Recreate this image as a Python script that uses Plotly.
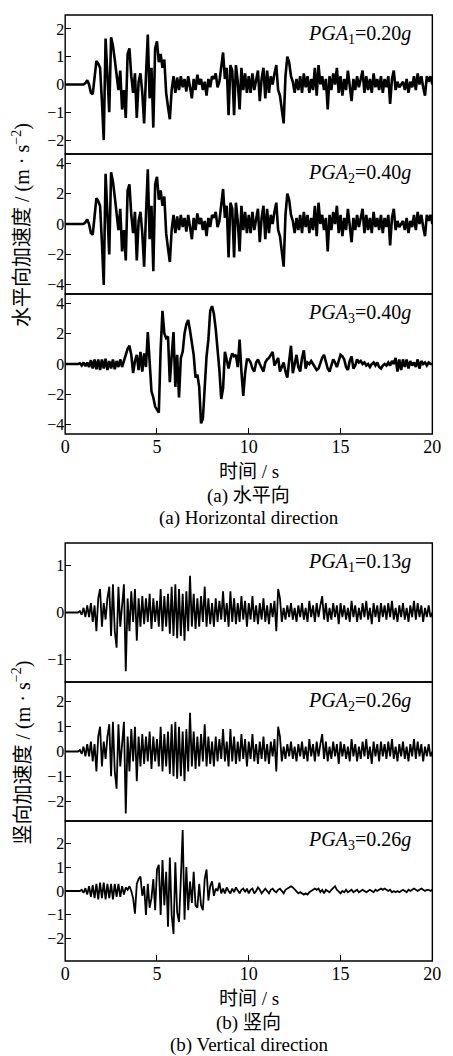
import plotly.graph_objects as go

# ---------------- data ----------------
time_s = [round(i * 0.1, 1) for i in range(201)]

# Horizontal, PGA1 = 0.20g  (m/s^2), one row per second, 0.1 s step
horiz_pga1 = [
    0, 0, 0, 0, 0, 0, 0, 0, 0, 0,
    0, 0.05, 0.15, 0, -0.3, -0.35, 0.3, 0.85, 0.75, 0.6,
    -0.6, -2.0, 1.65, 0.2, -1.0, 1.7, 1.4, 0.9, 0.4, -0.2,
    0.5, -0.9, -0.2, -1.2, 1.1, 1.3, 0.3, -0.3, 0.4, -1.2,
    0.1, 0.4, -0.3, -1.4, 0.3, 1.8, -0.5, 0.6, -1.55, 1.3,
    1.55, 0.8, 1.1, 0.6, 0.9, -0.3, -0.8, -1.25, -0.2, 0.3,
    -0.3, 0.25, -0.2, 0.3, -0.1, 0.2, -0.25, 0.3, -0.1, -0.5,
    0.2, -0.2, 0.35, 0, 0.2, -0.2, 0.1, -0.4, 0.2, -0.1,
    0.3, 0.2, 0.4, -0.1, 0.1, 0.6, 1.15, 0.2, 0.6, -1.1,
    0.7, 0.5, -1.1, 0.7, 0.1, -0.9, 0.6, -0.2, 0.4, -0.3,
    0.3, -0.3, 0.4, -0.2, 0.1, 0.5, -0.6, 0.2, 0.6, -0.5,
    0.5, -0.3, 0.3, 0, 0.4, 0.7, -0.2, -0.4, -0.9, -1.4,
    0.3, 1.0, 0.8, 0.3, 0.1, -0.3, 0.2, -0.2, 0.3, -0.3,
    0.4, -0.1, 0.3, -0.3, 0.2, -0.2, 0.6, -0.4, 0.7, 0,
    0.3, -0.2, 0.2, -0.9, 0.3, -0.2, 0.4, 0, 0.6, -0.3,
    0.3, -0.4, 0.2, -0.2, 0.5, -0.1, -0.6, 0.2, -0.2, 0.3,
    -0.1, 0.2, 0.5, -0.3, 0.3, -0.2, 0.2, -0.3, 0.4, -0.1,
    0.2, -0.2, 0.3, -0.3, 0.2, -0.1, 0.3, -0.7, 0.2, 0.5,
    -0.2, 0.1, -0.1, 0, 0.1, -0.2, 0.2, -0.3, 0.1, -0.1,
    0.3, -0.2, 0.4, 0, 0.3, -0.1, -0.4, 0.3, 0.1, 0.3,
    0.0,
]

# Horizontal, PGA2 = 0.40g
horiz_pga2 = [
    0, 0, 0, 0, 0, 0, 0, 0, 0, 0,
    0, 0.1, 0.3, 0, -0.6, -0.7, 0.6, 1.7, 1.5, 1.2,
    -1.2, -4.0, 3.3, 0.4, -2.0, 3.4, 2.8, 1.8, 0.8, -0.4,
    1.0, -1.8, -0.4, -2.4, 2.2, 2.6, 0.6, -0.6, 0.8, -2.4,
    0.2, 0.8, -0.6, -2.8, 0.6, 3.6, -1.0, 1.2, -3.1, 2.6,
    3.1, 1.6, 2.2, 1.2, 1.8, -0.6, -1.6, -2.5, -0.4, 0.6,
    -0.6, 0.5, -0.4, 0.6, -0.2, 0.4, -0.5, 0.6, -0.2, -1.0,
    0.4, -0.4, 0.7, 0, 0.4, -0.4, 0.2, -0.8, 0.4, -0.2,
    0.6, 0.4, 0.8, -0.2, 0.2, 1.2, 2.3, 0.4, 1.2, -2.2,
    1.4, 1.0, -2.2, 1.4, 0.2, -1.8, 1.2, -0.4, 0.8, -0.6,
    0.6, -0.6, 0.8, -0.4, 0.2, 1.0, -1.2, 0.4, 1.2, -1.0,
    1.0, -0.6, 0.6, 0, 0.8, 1.4, -0.4, -0.8, -1.8, -2.8,
    0.6, 2.0, 1.6, 0.6, 0.2, -0.6, 0.4, -0.4, 0.6, -0.6,
    0.8, -0.2, 0.6, -0.6, 0.4, -0.4, 1.2, -0.8, 1.4, 0,
    0.6, -0.4, 0.4, -1.8, 0.6, -0.4, 0.8, 0, 1.2, -0.6,
    0.6, -0.8, 0.4, -0.4, 1.0, -0.2, -1.2, 0.4, -0.4, 0.6,
    -0.2, 0.4, 1.0, -0.6, 0.6, -0.4, 0.4, -0.6, 0.8, -0.2,
    0.4, -0.4, 0.6, -0.6, 0.4, -0.2, 0.6, -1.4, 0.4, 1.0,
    -0.4, 0.2, -0.2, 0, 0.2, -0.4, 0.4, -0.6, 0.2, -0.2,
    0.6, -0.4, 0.8, 0, 0.6, -0.2, -0.8, 0.6, 0.2, 0.6,
    0.0,
]

# Horizontal, PGA3 = 0.40g
horiz_pga3 = [
    0, 0, 0, 0, 0, 0, 0, 0, 0.05, -0.1,
    0.1, -0.15, 0.1, -0.2, 0.25, -0.3, 0.3, -0.35, 0.3, -0.4,
    0.3, -0.3, 0.35, -0.4, 0.2, -0.3, 0.3, -0.35, 0.2, -0.2,
    0.3, -0.2, 0.2, 0.6, 1.0, 1.2, 0.6, -0.6, 0.2, 0.6,
    -0.4, 0.8, -0.5, 0.7, -0.2, 2.1, 0.2, -1.8, -2.2, -2.8,
    -3.0, -3.2, 1.0, 3.5, 2.0, 1.7, 1.8, -1.2, 0.5, 2.1,
    -1.5, 0.6, -2.2, 0.4, 0.8, 2.0, 2.6, 2.9, 2.2, 1.5,
    0.6, -0.9, -0.7, -1.5, -3.9, -3.6, -1.5, 0.5, 1.6, 3.5,
    3.8, 3.3, 2.3, 1.0, -0.4, -2.3, -1.6, 0.8, 0.3, -0.3,
    0.3, 0.7, 0.5, 0.6, -0.2, 1.6, -0.5, -2.1, -0.6, 0.3,
    0.3, 0.1, -0.3, -0.5, 0.1, 0.3, 0, -0.3, -0.5, 0.1,
    0.3, 0.4, 0.6, 0.8, -0.1, 0.2, 0.4, -0.5, -0.2, 0.1,
    -0.5, -0.9, 0.2, 1.2, -0.6, 0.1, 0.6, -0.2, -0.5, 0.4,
    0.9, -0.3, 0.1, 0, 0.2, 0, -0.2, -0.4, -0.3, 0.1,
    0.4, 0.6, 0.1, -0.3, -0.5, 0, 0.3, 0.1, -0.2, 0.2,
    0.6, 0.5, 0.3, -0.2, -0.4, 0.2, 0.5, -0.3, -0.1, 0.3,
    0.1, 0.2, 0, 0.1, -0.1, 0, -0.2, 0, 0.1, -0.1,
    0.1, -0.2, -0.3, -0.1, 0, -0.1, 0.1, -0.1, 0.2, 0,
    0.4, -0.5, 0.3, -0.4, 0.3, -0.2, 0.3, -0.3, 0.2, -0.1,
    0.1, -0.2, 0.3, -0.3, 0.2, 0, 0.1, -0.1, 0.1, 0,
    0.0,
]

# Vertical, PGA1 = 0.13g
vert_pga1 = [
    0, 0, 0, 0, 0, 0, 0, 0, 0.03, -0.05,
    0.1, -0.1, 0.15, -0.1, 0.2, -0.2, 0.15, -0.4, 0.3, 0.5,
    -0.3, 0.2, -0.15, 0.3, 0.55, -0.5, 0.6, -0.4, -0.75, 0.55,
    -0.3, 0.2, 0.6, -1.25, 0.3, -0.4, 0.45, -0.2, 0.5, -0.6,
    0.3, -0.3, 0.35, -0.25, 0.3, -0.2, 0.4, -0.35, 0.3, -0.2,
    0.25, -0.3, 0.5, -0.4, 0.35, -0.3, 0.4, -0.45, 0.55, -0.5,
    0.6, -0.55, 0.5, -0.5, 0.4, -0.6, 0.45, -0.4, 0.78, -0.3,
    0.4, -0.35, 0.3, -0.3, 0.35, -0.2, 0.55, -0.3, 0.3, -0.25,
    0.2, -0.3, 0.3, -0.2, 0.25, -0.15, 0.45, -0.2, 0.2, -0.3,
    0.45, -0.2, 0.3, -0.25, 0.2, -0.2, 0.35, -0.15, 0.25, -0.3,
    0.2, -0.15, 0.35, -0.2, 0.15, -0.25, 0.2, -0.15, 0.3, -0.2,
    0.15, -0.25, 0.2, -0.1, 0.25, -0.4, 0.5, 0.3, -0.2, 0.1,
    -0.15, 0.15, -0.1, 0.2, -0.15, 0.1, -0.2, 0.15, -0.1, 0.2,
    -0.15, 0.1, -0.2, 0.25, -0.1, 0.15, -0.2, 0.2, -0.1, 0.15,
    0.35, -0.15, 0.2, -0.2, 0.1, -0.15, 0.2, -0.1, 0.15, -0.25,
    0.2, -0.1, 0.15, -0.15, 0.1, -0.2, 0.25, -0.1, 0.15, -0.2,
    0.1, -0.15, 0.2, -0.1, 0.25, -0.15, 0.1, -0.25, 0.2, -0.1,
    0.15, -0.2, 0.2, -0.1, 0.15, -0.15, 0.2, -0.1, 0.25, -0.15,
    0.1, -0.2, 0.15, -0.1, 0.2, -0.15, 0.1, -0.2, 0.15, -0.1,
    0.25, -0.15, 0.2, -0.1, 0.15, -0.2, 0.1, -0.1, 0.15, -0.1,
    0.0,
]

# Vertical, PGA2 = 0.26g
vert_pga2 = [
    0, 0, 0, 0, 0, 0, 0, 0, 0.06, -0.1,
    0.2, -0.2, 0.3, -0.2, 0.4, -0.4, 0.3, -0.8, 0.6, 1.0,
    -0.6, 0.4, -0.3, 0.6, 1.1, -1.0, 1.2, -0.8, -1.5, 1.1,
    -0.6, 0.4, 1.2, -2.5, 0.6, -0.8, 0.9, -0.4, 1.0, -1.2,
    0.6, -0.6, 0.7, -0.5, 0.6, -0.4, 0.8, -0.7, 0.6, -0.4,
    0.5, -0.6, 1.0, -0.8, 0.7, -0.6, 0.8, -0.9, 1.1, -1.0,
    1.2, -1.1, 1.0, -1.0, 0.8, -1.2, 0.9, -0.8, 1.56, -0.6,
    0.8, -0.7, 0.6, -0.6, 0.7, -0.4, 1.1, -0.6, 0.6, -0.5,
    0.4, -0.6, 0.6, -0.4, 0.5, -0.3, 0.9, -0.4, 0.4, -0.6,
    0.9, -0.4, 0.6, -0.5, 0.4, -0.4, 0.7, -0.3, 0.5, -0.6,
    0.4, -0.3, 0.7, -0.4, 0.3, -0.5, 0.4, -0.3, 0.6, -0.4,
    0.3, -0.5, 0.4, -0.2, 0.5, -0.8, 1.0, 0.6, -0.4, 0.2,
    -0.3, 0.3, -0.2, 0.4, -0.3, 0.2, -0.4, 0.3, -0.2, 0.4,
    -0.3, 0.2, -0.4, 0.5, -0.2, 0.3, -0.4, 0.4, -0.2, 0.3,
    0.7, -0.3, 0.4, -0.4, 0.2, -0.3, 0.4, -0.2, 0.3, -0.5,
    0.4, -0.2, 0.3, -0.3, 0.2, -0.4, 0.5, -0.2, 0.3, -0.4,
    0.2, -0.3, 0.4, -0.2, 0.5, -0.3, 0.2, -0.5, 0.4, -0.2,
    0.3, -0.4, 0.4, -0.2, 0.3, -0.3, 0.4, -0.2, 0.5, -0.3,
    0.2, -0.4, 0.3, -0.2, 0.4, -0.3, 0.2, -0.4, 0.3, -0.2,
    0.5, -0.3, 0.4, -0.2, 0.3, -0.4, 0.2, -0.2, 0.3, -0.2,
    0.0,
]

# Vertical, PGA3 = 0.26g
vert_pga3 = [
    0, 0, 0, 0, 0, 0, 0, 0, 0, 0.05,
    -0.08, 0.12, -0.15, 0.2, -0.25, 0.25, -0.3, 0.3, -0.35, 0.35,
    -0.3, 0.35, -0.35, 0.3, -0.3, 0.3, -0.35, 0.3, -0.25, 0.3,
    -0.25, 0.2, -0.15, 0.15, 0.05, 0.2, 0, -0.3, -0.95, 0.3,
    0.5, 0.6, -0.2, 0.2, -1.0, 0.3, -0.7, -0.3, 0.5, -0.8,
    0.9, 1.1, -1.0, 1.3, -0.6, 0.8, -1.5, 1.4, -1.0, -1.8,
    1.2, -0.9, -1.3, 0.5, 2.55, -1.2, 1.0, -0.8, 0.4, -0.5,
    0.8, -0.6, -0.7, 0.3, -0.6, -0.8, 0.5, 0.9, -0.4, 0.2,
    0.4, -0.2, 0.1, 0, 0.35, -0.1, 0.1, -0.1, 0.15, 0,
    -0.1, 0.1, -0.05, 0.15, 0, -0.1, 0.05, 0.1, -0.05, 0.1,
    -0.1, 0.05, 0.1, -0.1, 0, 0.15, 0.05, -0.1, 0, 0.1,
    0, -0.1, 0.05, 0.1, 0, -0.05, 0.05, 0.1, 0, -0.1,
    0.05, 0.1, 0.15, 0.2, 0.15, 0.05, -0.05, -0.1, -0.05, -0.1,
    -0.15, -0.1, -0.15, -0.05, 0, 0.05, 0.1, 0.05, 0.1, -0.05,
    0.05, -0.1, 0.05, 0, -0.05, 0.05, 0.15, 0.2, 0.05, -0.05,
    -0.1, 0, -0.05, 0.05, -0.05, 0, 0.05, -0.05, 0, 0.05,
    -0.05, 0, 0.05, 0, -0.05, 0, 0.05, 0, -0.05, 0.05,
    0, 0.05, 0.1, 0.05, 0.1, 0.05, 0, 0.05, -0.05, 0,
    -0.05, 0, -0.05, 0, 0.05, 0, -0.05, 0.05, 0, 0.05,
    0.1, 0.05, 0, 0.05, 0.1, 0.05, 0, 0.05, 0.05, 0,
    0.05,
]

pga_labels = ["0.20", "0.40", "0.40", "0.13", "0.26", "0.26"]
x_ticks = [0, 5, 10, 15, 20]
y_ticks_list = [
    [-2, -1, 0, 1, 2],
    [-4, -2, 0, 2, 4],
    [-4, -2, 0, 2, 4],
    [-1, 0, 1],
    [-2, -1, 0, 1, 2],
    [-2, -1, 0, 1, 2],
]
y_ranges = [[-2.5, 2.5], [-4.6, 4.6], [-4.6, 4.6], [-1.48, 1.48], [-2.8, 2.8], [-2.93, 2.93]]

series = [horiz_pga1, horiz_pga2, horiz_pga3, vert_pga1, vert_pga2, vert_pga3]
for s in series:
    assert len(s) == len(time_s), len(s)

# ---------------- layout (pixel geometry) ----------------
W, H = 453, 1056
X0, X1 = 63, 441
panel_px = [(15, 154), (154, 294), (294, 434), (543, 682), (682, 821), (821, 961)]
line_widths = [2.6, 2.6, 2.6, 1.8, 1.8, 1.8]

FONT = "Liberation Serif, Noto Sans CJK SC, serif"
FS = 19
TICK_FS = 16

def py(px):
    return 1 - px / H

def ital(txt, size):
    return f'<span style="font-style:italic;font-size:{size}px">{txt}</span>'

fig = go.Figure()
layout = dict(
    width=W, height=H, margin=dict(l=0, r=0, t=0, b=0),
    paper_bgcolor="white", plot_bgcolor="white", showlegend=False,
    font=dict(family=FONT, size=FS, color="black"),
)
annotations = []
shapes = []
for i, (s, (top, bot)) in enumerate(zip(series, panel_px)):
    n = i + 1
    xa = "x" if n == 1 else f"x{n}"
    ya = "y" if n == 1 else f"y{n}"
    fig.add_trace(go.Scatter(x=time_s, y=s, mode="lines", xaxis=xa, yaxis=ya,
                             line=dict(color="black", width=line_widths[i]),
                             hoverinfo="skip"))
    bottom_panel = n in (3, 6)
    layout["xaxis" if n == 1 else f"xaxis{n}"] = dict(
        domain=[X0 / W, X1 / W], range=[0, 20], anchor=ya,
        showline=False, showgrid=False, zeroline=False,
        tickvals=x_ticks if bottom_panel else [],
        showticklabels=bottom_panel, ticks="inside" if bottom_panel else "",
        ticklen=6, tickwidth=1.3, tickcolor="black",
        tickfont=dict(family=FONT, size=18),
    )
    layout["yaxis" if n == 1 else f"yaxis{n}"] = dict(
        domain=[py(bot), py(top)], range=y_ranges[i], anchor=xa,
        showline=False, showgrid=False, zeroline=False, tickvals=y_ticks_list[i],
        ticks="inside", ticklen=6, tickwidth=1.3, tickcolor="black",
        tickfont=dict(family=FONT, size=TICK_FS),
    )
    shapes.append(dict(type="rect", xref="paper", yref="paper",
                       x0=X0 / W, x1=X1 / W, y0=py(bot), y1=py(top),
                       line=dict(color="black", width=1.4), layer="above"))
    sub = (i % 3) + 1
    annotations.append(dict(
        xref="paper", yref="paper", x=421 / W, y=py(top + 19),
        xanchor="right", yanchor="middle", showarrow=False,
        text=f"{ital('PGA', 20)}<sub>{sub}</sub>={pga_labels[i]}{ital('g', 20)}",
        font=dict(family=FONT, size=20),
    ))

group_titles = [
    ("水平向加速度 / (m · s<sup>−2</sup>)", 15, 434, "(a) 水平向", "(a) Horizontal direction"),
    ("竖向加速度 / (m · s<sup>−2</sup>)", 543, 961, "(b) 竖向", "(b) Vertical direction"),
]
cx = (X0 + X1) / 2 / W
for ytitle, gtop, gbot, cap_cn, cap_en in group_titles:
    annotations.append(dict(xref="paper", yref="paper", x=18 / W, y=py((gtop + gbot) / 2),
                            xanchor="center", yanchor="middle", textangle=-90,
                            showarrow=False, text=ytitle, font=dict(family=FONT, size=20)))
    annotations.append(dict(xref="paper", yref="paper", x=cx, y=py(gbot + 37),
                            xanchor="center", yanchor="middle", showarrow=False,
                            text="时间 / s", font=dict(family=FONT, size=FS)))
    annotations.append(dict(xref="paper", yref="paper", x=cx, y=py(gbot + 62),
                            xanchor="center", yanchor="middle", showarrow=False,
                            text=cap_cn, font=dict(family=FONT, size=FS)))
    annotations.append(dict(xref="paper", yref="paper", x=cx, y=py(gbot + 84),
                            xanchor="center", yanchor="middle", showarrow=False,
                            text=cap_en, font=dict(family=FONT, size=FS)))

layout["annotations"] = annotations
layout["shapes"] = shapes
fig.update_layout(**layout)
fig.write_html("out.html", config={"displayModeBar": False},
               post_script="document.body.style.margin='0';document.body.style.padding='0';")
